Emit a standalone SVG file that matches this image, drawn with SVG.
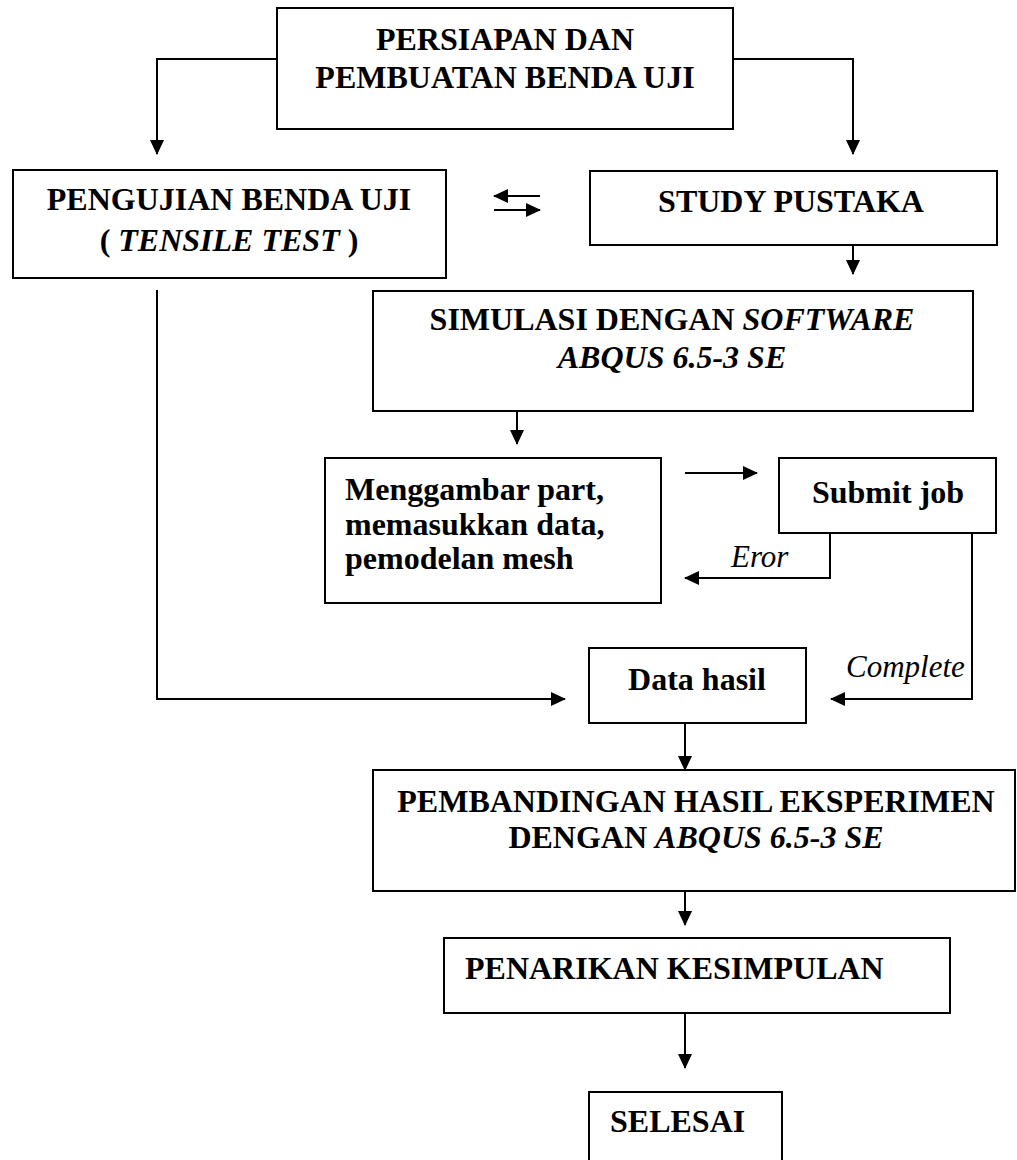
<svg xmlns="http://www.w3.org/2000/svg" width="1017" height="1160" viewBox="0 0 1017 1160">
<defs>
<marker id="ah" markerWidth="15" markerHeight="14" refX="14" refY="7" orient="auto" markerUnits="userSpaceOnUse">
<path d="M0,0 L15,7 L0,14 Z" fill="#000"/>
</marker>
<style>
.box{fill:#fff;stroke:#000;stroke-width:2}
.t{font-family:"Liberation Serif","Times New Roman",serif;font-weight:bold;font-size:32px;fill:#000}
.c{text-anchor:middle}
.i{font-style:italic}
.lbl{font-family:"Liberation Serif","Times New Roman",serif;font-style:italic;font-size:31px;fill:#000}
.ln{fill:none;stroke:#000;stroke-width:2}
</style>
</defs>
<rect width="1017" height="1160" fill="#fff"/>
<g id="connectors">
<path class="ln" d="M277,59 H157 V154" marker-end="url(#ah)"/>
<path class="ln" d="M733,59 H853 V154" marker-end="url(#ah)"/>
<path class="ln" d="M540,196 H494" marker-end="url(#ah)"/>
<path class="ln" d="M494,210 H540" marker-end="url(#ah)"/>
<path class="ln" d="M853,243 V274" marker-end="url(#ah)"/>
<path class="ln" d="M517,411 V444" marker-end="url(#ah)"/>
<path class="ln" d="M685,473 H757" marker-end="url(#ah)"/>
<path class="ln" d="M830,533 V578 H685" marker-end="url(#ah)"/>
<path class="ln" d="M972,533 V699 H831" marker-end="url(#ah)"/>
<path class="ln" d="M157,290 V699 H565" marker-end="url(#ah)"/>
<path class="ln" d="M685,723 V770" marker-end="url(#ah)"/>
<path class="ln" d="M685,891 V925" marker-end="url(#ah)"/>
<path class="ln" d="M685,1010 V1068" marker-end="url(#ah)"/>
<text class="lbl" x="731" y="567">Eror</text>
<text class="lbl" x="846" y="677">Complete</text>
</g>
<g id="n-persiapan">
<rect class="box" x="277" y="8" width="456" height="121"/>
<text class="t c" x="505" y="50">PERSIAPAN DAN</text>
<text class="t c" x="505" y="88">PEMBUATAN BENDA UJI</text>
</g>
<g id="n-pengujian">
<rect class="box" x="13" y="170" width="433" height="108"/>
<text class="t c" x="229" y="210">PENGUJIAN BENDA UJI</text>
<text class="t c" x="229" y="251">( <tspan class="i">TENSILE TEST</tspan> )</text>
</g>
<g id="n-study">
<rect class="box" x="590" y="171" width="407" height="74"/>
<text class="t c" x="791" y="212">STUDY PUSTAKA</text>
</g>
<g id="n-simulasi">
<rect class="box" x="373" y="291" width="600" height="120"/>
<text class="t c" x="672" y="330">SIMULASI DENGAN <tspan class="i">SOFTWARE</tspan></text>
<text class="t c i" x="672" y="368">ABQUS 6.5-3 SE</text>
</g>
<g id="n-menggambar">
<rect class="box" x="325" y="458" width="336" height="145"/>
<text class="t" x="345" y="500">Menggambar part,</text>
<text class="t" x="345" y="535">memasukkan data,</text>
<text class="t" x="345" y="569">pemodelan mesh</text>
</g>
<g id="n-submit">
<rect class="box" x="779" y="458" width="217" height="75"/>
<text class="t c" x="888" y="503">Submit job</text>
</g>
<g id="n-data">
<rect class="box" x="589" y="648" width="217" height="75"/>
<text class="t c" x="697" y="690">Data hasil</text>
</g>
<g id="n-pembandingan">
<rect class="box" x="373" y="770" width="642" height="121"/>
<text class="t c" x="696" y="812">PEMBANDINGAN HASIL EKSPERIMEN</text>
<text class="t c" x="696" y="848">DENGAN <tspan class="i">ABQUS 6.5-3 SE</tspan></text>
</g>
<g id="n-penarikan">
<rect class="box" x="444" y="938" width="506" height="75"/>
<text class="t" x="465" y="979">PENARIKAN KESIMPULAN</text>
</g>
<g id="n-selesai">
<rect class="box" x="589" y="1092" width="193" height="80"/>
<text class="t" x="610" y="1132">SELESAI</text>
</g>
</svg>
